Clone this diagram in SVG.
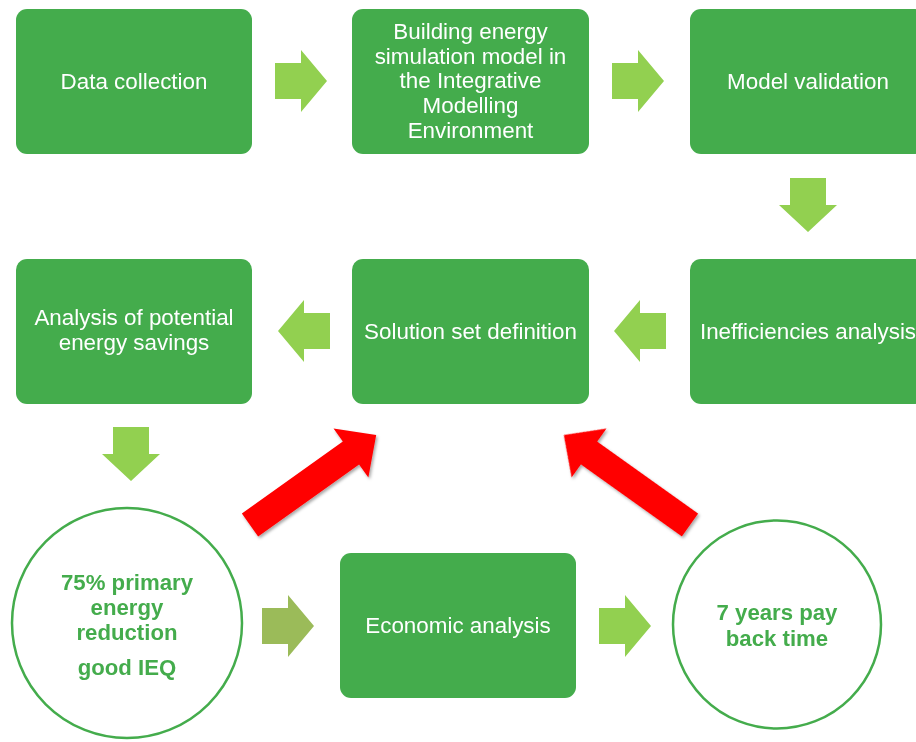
<svg xmlns="http://www.w3.org/2000/svg" width="916" height="742" viewBox="0 0 916 742">
  <defs>
    <style>
      .box { fill: #44AC4C; }
      .lbl { font-family: "Liberation Sans", Arial, sans-serif; font-size: 22.4px; fill: #FFFFFF; text-anchor: middle; }
      .ring { fill: #FFFFFF; stroke: #44AC4C; stroke-width: 2.5; }
      .rlbl { font-family: "Liberation Sans", Arial, sans-serif; font-size: 22.2px; font-weight: bold; fill: #44AC4C; text-anchor: middle; }
      .flow { fill: #92D050; }
      .flow-olive { fill: #9BBB59; }
      .loop { fill: #FF0000; }
    </style>
    <!-- block arrow pointing right, 52 x 62, origin at left/middle -->
    <path id="blockR" d="M0,-18 H26 V-31 L52,0 L26,31 V18 H0 Z"/>
    <!-- block arrow pointing down, 58 x 54, origin at top/middle -->
    <path id="blockD" d="M-18,0 H18 V27 H29 L0,54 L-29,27 H-18 Z"/>
    <!-- long feedback arrow pointing right, origin at tail centre -->
    <path id="loopArrow" d="M0,-14 H124 V-30 L155,0 L124,30 V14 H0 Z"/>
    <filter id="shadow" x="-20%" y="-20%" width="140%" height="140%">
      <feDropShadow dx="1.5" dy="2" stdDeviation="1.5" flood-color="#000000" flood-opacity="0.35"/>
    </filter>
  </defs>

  <rect width="916" height="742" fill="#FFFFFF"/>

  <!-- connectors -->
  <g id="connectors">
    <use href="#blockR" class="flow" transform="translate(275,81)"/>
    <use href="#blockR" class="flow" transform="translate(612,81)"/>
    <use href="#blockD" class="flow" transform="translate(808,178)"/>
    <use href="#blockR" class="flow" transform="translate(666,331) scale(-1,1)"/>
    <use href="#blockR" class="flow" transform="translate(330,331) scale(-1,1)"/>
    <use href="#blockD" class="flow" transform="translate(131,427)"/>
    <use href="#blockR" class="flow-olive" transform="translate(262,626)"/>
    <use href="#blockR" class="flow" transform="translate(599,626)"/>
    <g filter="url(#shadow)">
      <use href="#loopArrow" class="loop" transform="translate(250,525) rotate(-35.5)"/>
      <use href="#loopArrow" class="loop" transform="translate(690,525) rotate(-144.5)"/>
    </g>
  </g>

  <!-- row 1 -->
  <g id="data-collection">
    <rect class="box" x="16" y="9" width="236" height="145" rx="11"/>
    <text class="lbl" x="134" y="88.5">Data collection</text>
  </g>
  <g id="simulation-model">
    <rect class="box" x="352" y="9" width="237" height="145" rx="11"/>
    <text class="lbl" x="470.5" y="39">Building energy</text>
    <text class="lbl" x="470.5" y="63.5">simulation model in</text>
    <text class="lbl" x="470.5" y="88">the Integrative</text>
    <text class="lbl" x="470.5" y="113">Modelling</text>
    <text class="lbl" x="470.5" y="138">Environment</text>
  </g>
  <g id="model-validation">
    <rect class="box" x="690" y="9" width="236" height="145" rx="11"/>
    <text class="lbl" x="808" y="88.5">Model validation</text>
  </g>

  <!-- row 2 -->
  <g id="potential-savings">
    <rect class="box" x="16" y="259" width="236" height="145" rx="11"/>
    <text class="lbl" x="134" y="325">Analysis of potential</text>
    <text class="lbl" x="134" y="350">energy savings</text>
  </g>
  <g id="solution-set">
    <rect class="box" x="352" y="259" width="237" height="145" rx="11"/>
    <text class="lbl" x="470.5" y="338.5">Solution set definition</text>
  </g>
  <g id="inefficiencies">
    <rect class="box" x="690" y="259" width="236" height="145" rx="11"/>
    <text class="lbl" x="808" y="338.5">Inefficiencies analysis</text>
  </g>

  <!-- row 3 -->
  <g id="energy-result">
    <circle class="ring" cx="127" cy="623" r="115"/>
    <text class="rlbl" x="127" y="590">75% primary</text>
    <text class="rlbl" x="127" y="615">energy</text>
    <text class="rlbl" x="127" y="640">reduction</text>
    <text class="rlbl" x="127" y="675">good IEQ</text>
  </g>
  <g id="economic-analysis">
    <rect class="box" x="340" y="553" width="236" height="145" rx="11"/>
    <text class="lbl" x="458" y="632.5">Economic analysis</text>
  </g>
  <g id="payback">
    <circle class="ring" cx="777" cy="624.5" r="104"/>
    <text class="rlbl" x="777" y="620">7 years pay</text>
    <text class="rlbl" x="777" y="646">back time</text>
  </g>
</svg>
